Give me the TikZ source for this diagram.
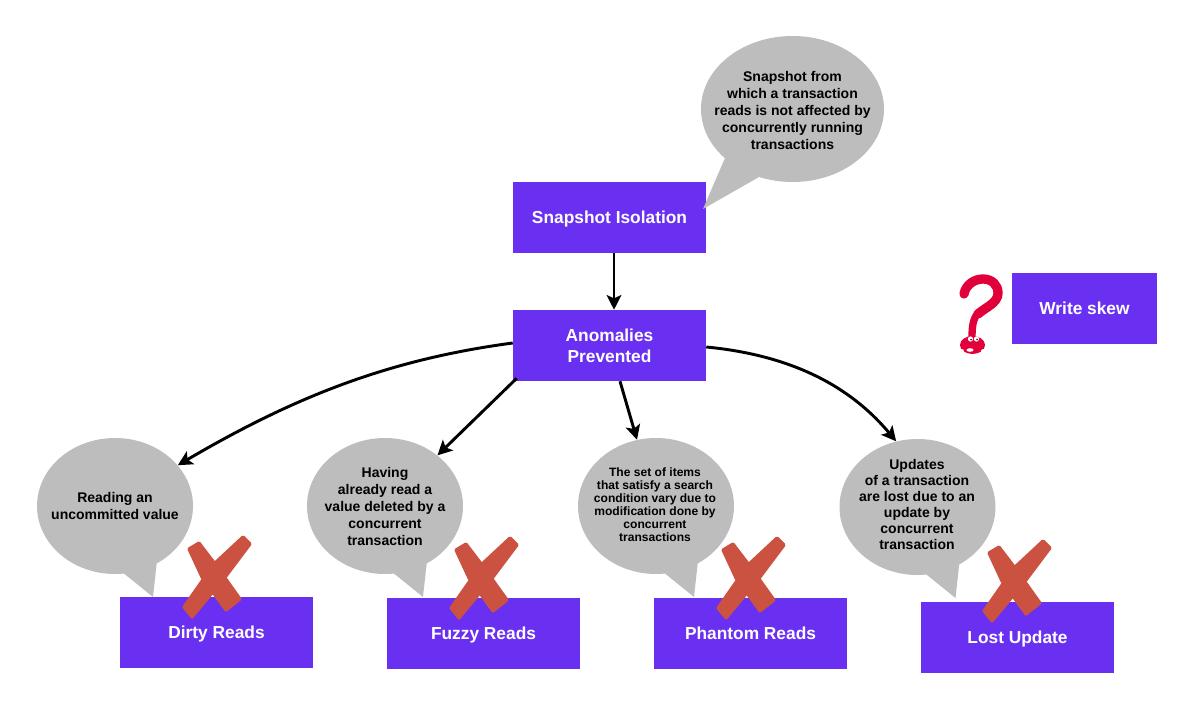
\documentclass[tikz,border=0pt]{standalone}
\usepackage{fontspec}
\setmainfont{Liberation Sans}
\usetikzlibrary{arrows.meta,shapes.geometric,calc}
\definecolor{pur}{HTML}{6A30F2}
\definecolor{bub}{HTML}{BDBDBD}
\definecolor{crossc}{HTML}{CB5141}
\definecolor{qred}{HTML}{E2003A}
\tikzset{
 box/.style={rectangle,fill=pur,text=white,font=\fontsize{13}{15.5}\selectfont\bfseries,align=center,inner sep=0,minimum width=144.75pt,minimum height=53.25pt},
 bubble/.style={ellipse,fill=bub,inner sep=0},
 tail/.style={fill=bub},
 btext/.style={text=black,font=\fontsize{10.5}{12.75}\selectfont\bfseries,align=center,inner sep=0},
 ttext/.style={text=black,font=\fontsize{10.5}{12}\selectfont\bfseries,align=center,inner sep=0},
 stext/.style={text=black,font=\fontsize{9.05}{9.75}\selectfont\bfseries,align=center,inner sep=0},
 conn/.style={line width=2.2pt,-{Stealth[length=11pt,width=11pt,inset=2.5pt]}},
 crossbar/.style={fill=crossc,draw=crossc,line width=2.4pt,line join=round}
}
\newcommand{\crossat}[2]{%
 \begin{scope}[shift={(#1,#2)}]
  \filldraw[crossbar] (189,549) -- (199,543) -- (215,564) -- (240,599) -- (226,610) -- (202,577) -- cycle;
  \filldraw[crossbar] (243,537) -- (250,544) -- (226,576) -- (192,617) -- (184,607) -- (214,564) -- cycle;
 \end{scope}}
\newcommand{\lowered}[1]{\raisebox{-4.4pt}[5pt][5pt]{#1}}
\begin{document}
\begin{tikzpicture}[x=0.75pt,y=-0.75pt]
\useasboundingbox (0,0) rectangle (1193,710);
% boxes
\node[box] (snap) at (609.5,217.5) {\lowered{Snapshot Isolation}};
\node[box] (anom) at (609.5,345.5) {Anomalies\\Prevented};
\node[box] (dirty) at (216.5,632.5) {\lowered{Dirty Reads}};
\node[box] (fuzzy) at (483.5,633.5) {\lowered{Fuzzy Reads}};
\node[box] (phantom) at (750.5,633.5) {\lowered{Phantom Reads}};
\node[box] (lost) at (1017.5,637.5) {\lowered{Lost Update}};
\node[box,minimum width=108.75pt] (skew) at (1084.5,308.5) {\lowered{Write skew}};
% bubbles
\node[bubble,minimum width=137.25pt,minimum height=109.5pt] (b0) at (792.5,109) {};
\fill[tail] (725,158) -- (703,209) -- (759,177) -- cycle;
\node[btext] (t0) at (792.5,110.5) {Snapshot from\\which a transaction\\reads is not affected by\\concurrently running\\transactions};
\node[bubble,minimum width=117pt,minimum height=102pt] (b1) at (115,506) {};
\fill[tail] (119,569.5) -- (153,597) -- (157.5,556) -- cycle;
\node[btext] (t1) at (115,505.5) {Reading an\\uncommitted value};
\node[bubble,minimum width=117pt,minimum height=102pt] (b2) at (385,506) {};
\fill[tail] (389,569.5) -- (423,597) -- (427.5,556) -- cycle;
\node[btext] (t2) at (385,506) {Having\\already read a\\value deleted by a\\concurrent\\transaction};
\node[bubble,minimum width=117pt,minimum height=102pt] (b3) at (656,506) {};
\fill[tail] (660,569.5) -- (694,597) -- (698.5,556) -- cycle;
\node[stext] (t3) at (655,505) {The set of items\\that satisfy a search\\condition vary due to\\modification done by\\concurrent\\transactions};
\node[bubble,minimum width=117pt,minimum height=102pt] (b4) at (917.5,507) {};
\fill[tail] (921.5,570.5) -- (955.5,598) -- (960,557) -- cycle;
\node[ttext] (t4) at (917,504) {Updates\\of a transaction\\are lost due to an\\update by\\concurrent\\transaction};
% connectors
\draw[conn] ($(snap.south)+(4.5,0)$) -- ($(anom.north)+(4.5,0)$);
\draw[conn] ($(anom.west)+(0,-2.5)$) .. controls (393,359) and (299,394) .. (b1.33);
\draw[conn] ($(anom.south west)+(4,-3)$) -- (b2.44);
\draw[conn] ($(anom.south)+(10.5,0)$) -- (b3.106);
\draw[conn] ($(anom.east)+(0,1.5)$) .. controls (800,356) and (855,392) .. (b4.108);
% crosses
\crossat{0}{0}
\crossat{267}{1}
\crossat{534}{1}
\crossat{800}{4}
% question mark
\draw[qred,line width=7pt,line cap=round] (964,294) .. controls (966,284) and (975,279) .. (983,279)
  .. controls (992,279) and (998,285) .. (998,293)
  .. controls (998,303) and (986,307) .. (978,314);
\draw[qred,line width=5.5pt] (978,313) .. controls (973,319) and (972,326) .. (972,338);
\fill[qred] (972.5,345) ellipse (12.5 and 9);
\fill[white] (961.5,351) ellipse (2.5 and 2);
\fill[white] (983.5,351) ellipse (2.5 and 2);
\fill[white] (970.5,339) circle (2.6);
\fill[white] (976.5,339) circle (2.6);
\fill[black!80] (971,339.5) circle (1);
\fill[black!80] (977,339.5) circle (1);
\fill[white] (970,350) ellipse (3.5 and 1.8);
\end{tikzpicture}
\end{document}
